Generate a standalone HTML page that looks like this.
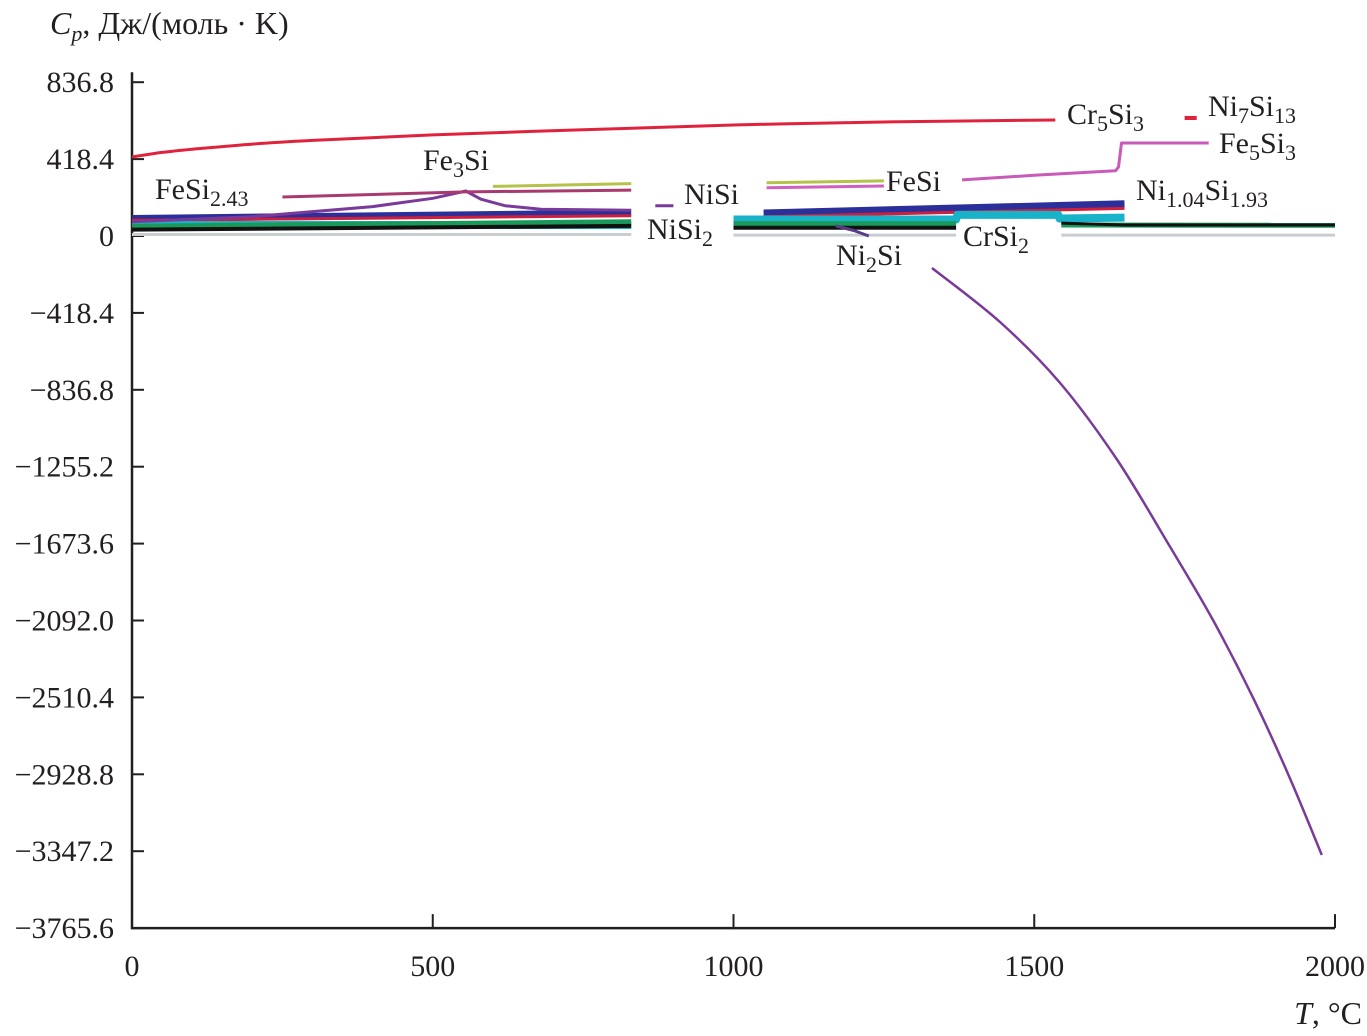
<!DOCTYPE html>
<html><head><meta charset="utf-8">
<style>
html,body{margin:0;padding:0;background:#fff;}
svg{display:block;font-family:"Liberation Serif",serif;}
</style></head>
<body>
<svg id="chart" width="1367" height="1036" viewBox="0 0 1367 1036" xmlns="http://www.w3.org/2000/svg">
<text x="50" y="34" font-size="32" fill="#231f20"><tspan font-style="italic">C</tspan><tspan font-style="italic" font-size="22" dy="7">p</tspan><tspan dy="-7">, Дж/(моль · K)</tspan></text>
<text x="1362" y="1024" font-size="32" fill="#231f20" text-anchor="end"><tspan font-style="italic">T</tspan>, °C</text>
<g id="axes"></g>
<g id="series"></g>
<g id="labels" font-size="30" fill="#231f20"></g>
</svg>
<script>
const xTicks=[0,500,1000,1500,2000];
const yTicks=[836.8,418.4,0,-418.4,-836.8,-1255.2,-1673.6,-2092.0,-2510.4,-2928.8,-3347.2,-3765.6];
const yTickLabels=["836.8","418.4","0","\u2212418.4","\u2212836.8","\u22121255.2","\u22121673.6","\u22122092.0","\u22122510.4","\u22122928.8","\u22123347.2","\u22123765.6"];

// series values (T in °C, Cp in J/(mol·K)); each array is one continuous segment
const cr5si3T=[0,50,100,200,300,500,750,1000,1250,1535];
const cr5si3V=[430,455,472,500,520,550,578,604,620,631];
const ni7si13T=[1750,1770];
const ni7si13V=[642,642];
const fesiT=[1380,1500,1635,1640,1645,1790];
const fesiV=[305,330,355,375,506,506];
const fesi243T=[250,555,830];
const fesi243V=[212,240,250];
const nisiAT=[600,830];
const nisiAV=[270,285];
const nisiBT=[1055,1250];
const nisiBV=[290,300];
const nisiPinkT=[1055,1250];
const nisiPinkV=[262,272];
const nisiShortT=[870,900];
const nisiShortV=[165,165];
const fe3siT=[0,200,400,500,555,580,620,680,830];
const fe3siV=[78,105,160,205,245,200,165,145,140];
const blueAT=[0,830];
const blueAV=[95,125];
const blueBT=[1050,1650];
const blueBV=[125,175];
const redAT=[0,830];
const redAV=[85,110];
const redBT=[1050,1650];
const redBV=[105,150];
const cyanAT=[0,830];
const cyanAV=[60,60];
const cyanBT=[1000,1370,1372,1540,1542,1650];
const cyanBV=[90,90,115,115,95,100];
const greenAT=[0,830];
const greenAV=[50,75];
const greenBT=[1000,1370];
const greenBV=[65,65];
const greenCT=[1545,2000];
const greenCV=[60,58];
const blackAT=[0,830];
const blackAV=[35,55];
const blackBT=[1000,1370];
const blackBV=[45,45];
const blackCT=[1545,1650,2000];
const blackCV=[70,60,60];
const greyAT=[0,830];
const greyAV=[8,8];
const greyBT=[1000,1370];
const greyBV=[5,5];
const greyCT=[1545,2000];
const greyCV=[5,5];
const ni2siAT=[1170,1200,1225];
const ni2siAV=[55,30,0];
const ni2siBT=[1330,1443,1543,1638,1726,1797,1864,1925,1978];
const ni2siBV=[-174,-468,-800,-1219,-1692,-2089,-2514,-2950,-3368];

const X0=132,XS=(1335-132)/2000,Y0=236,YS=76.9/418.4;
function x(t){return X0+t*XS;}
function y(v){return Y0-v*YS;}
const NS="http://www.w3.org/2000/svg";
const axes=document.getElementById('axes'),ser=document.getElementById('series');
function mk(tag,attrs,parent){const e=document.createElementNS(NS,tag);for(const k in attrs)e.setAttribute(k,attrs[k]);parent.appendChild(e);return e;}

const ax=mk('path',{d:`M${x(0)},${y(836.8)-10}V${y(-3765.6)}H${x(2000)}`,fill:'none',stroke:'#231f20','stroke-width':2.5},axes);


yTicks.forEach((v,i)=>{
  const t=mk('line',{x1:x(0),x2:x(0)+12,y1:y(v),y2:y(v),stroke:'#231f20','stroke-width':2},axes);
  
  
  const l=mk('text',{x:114,y:y(v)+10,'text-anchor':'end','font-size':30,fill:'#231f20'},axes);
  l.textContent=yTickLabels[i];
  
  
});
xTicks.forEach(t0=>{
  const t=mk('line',{x1:x(t0),x2:x(t0),y1:y(-3765.6),y2:y(-3765.6)-14,stroke:'#231f20','stroke-width':2},axes);
  
  
  const l=mk('text',{x:x(t0),y:976,'text-anchor':'middle','font-size':30,fill:'#231f20'},axes);
  l.textContent=String(t0);
  
  
});

function line(T,V,color,w,name,smooth){
  const P=T.map((t,i)=>[x(t),y(V[i])]);
  let d='M'+P[0][0].toFixed(1)+','+P[0][1].toFixed(1);
  for(let i=1;i<P.length;i++){
    if(smooth){
      const p0=P[Math.max(i-2,0)],p1=P[i-1],p2=P[i],p3=P[Math.min(i+1,P.length-1)];
      const c1=[p1[0]+(p2[0]-p0[0])/6,p1[1]+(p2[1]-p0[1])/6];
      const c2=[p2[0]-(p3[0]-p1[0])/6,p2[1]-(p3[1]-p1[1])/6];
      d+='C'+c1.map(n=>n.toFixed(1)).join(',')+' '+c2.map(n=>n.toFixed(1)).join(',')+' '+p2.map(n=>n.toFixed(1)).join(',');
    } else d+='L'+P[i][0].toFixed(1)+','+P[i][1].toFixed(1);
  }
  const p=mk('path',{d:d,fill:'none',stroke:color,'stroke-width':w,'stroke-linejoin':'round'},ser);
  
  
}
line(greyAT,greyAV,'#c8cdd0',3,'series-grey');
line(greyBT,greyBV,'#c8cdd0',3,'series-grey');
line(greyCT,greyCV,'#c8cdd0',3,'series-grey');
line(blueAT,blueAV,'#2b2f9a',7,'series-blue-band');
line(blueBT,blueBV,'#2b2f9a',7,'series-blue-band');
line(redAT,redAV,'#d01f3c',3,'series-red-band');
line(redBT,redBV,'#d01f3c',3,'series-red-band');
line(cyanAT,cyanAV,'#19b3c9',8,'series-cyan');
line(cyanBT,cyanBV,'#19b3c9',8,'series-cyan');
line(greenAT,greenAV,'#1a9a5a',6,'series-green');
line(greenBT,greenBV,'#1a9a5a',6,'series-green');
line(greenCT,greenCV,'#1a9a5a',5,'series-green');
line(blackAT,blackAV,'#111',4,'series-black');
line(blackBT,blackBV,'#111',4,'series-black');
line(blackCT,blackCV,'#111',3,'series-black');
line(fe3siT,fe3siV,'#7a3a9a',3,'series-fe3si');
line(fesi243T,fesi243V,'#a83a70',3,'series-fesi243');
line(nisiAT,nisiAV,'#b5c24a',3,'series-nisi');
line(nisiBT,nisiBV,'#b5c24a',3,'series-nisi');
line(nisiPinkT,nisiPinkV,'#d060c0',3,'series-nisi-pink');
line(nisiShortT,nisiShortV,'#7a3a9a',3,'series-nisi-short');
line(cr5si3T,cr5si3V,'#e0233c',3,'series-cr5si3',true);
line(ni7si13T,ni7si13V,'#e0233c',4,'series-ni7si13');
line(fesiT,fesiV,'#c85ab8',3,'series-fesi-fe5si3');
line(ni2siAT,ni2siAV,'#5a3a8a',3,'series-ni2si');
line(ni2siBT,ni2siBV,'#7a3a9a',2.5,'series-ni2si',true);

const L=document.getElementById('labels');
function lab(parts,xx,yy,name){
  const t=mk('text',{x:xx,y:yy},L);
  
  
  let sub=false;
  parts.forEach(p=>{const s=mk('tspan',{},t);if(p.sub){s.setAttribute('font-size','22');s.setAttribute('dy',sub?'0':'7');sub=true;}else{if(sub){s.setAttribute('dy','-7');}sub=false;}s.textContent=p.t;});
}
lab([{t:"FeSi"},{t:"2.43",sub:1}],155,199,'label-fesi243');
lab([{t:"Fe"},{t:"3",sub:1},{t:"Si"}],423,170,'label-fe3si');
lab([{t:"NiSi"}],684,204,'label-nisi');
lab([{t:"NiSi"},{t:"2",sub:1}],647,239,'label-nisi2');
lab([{t:"Ni"},{t:"2",sub:1},{t:"Si"}],836,265,'label-ni2si');
lab([{t:"FeSi"}],886,191,'label-fesi');
lab([{t:"CrSi"},{t:"2",sub:1}],963,246,'label-crsi2');
lab([{t:"Cr"},{t:"5",sub:1},{t:"Si"},{t:"3",sub:1}],1067,124,'label-cr5si3');
lab([{t:"Ni"},{t:"7",sub:1},{t:"Si"},{t:"13",sub:1}],1208,116,'label-ni7si13');
lab([{t:"Fe"},{t:"5",sub:1},{t:"Si"},{t:"3",sub:1}],1219,153,'label-fe5si3');
lab([{t:"Ni"},{t:"1.04",sub:1},{t:"Si"},{t:"1.93",sub:1}],1136,200,'label-ni104si193');
</script>
</body></html>
